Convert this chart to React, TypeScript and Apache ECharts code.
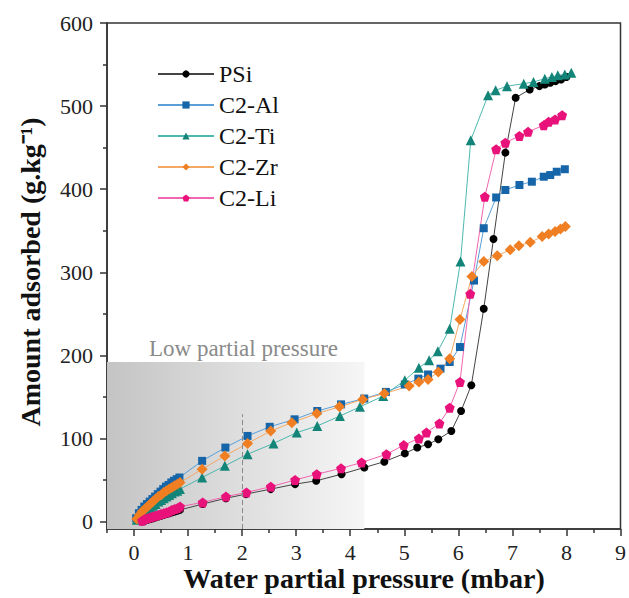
import React, { useEffect, useRef } from "react";
import * as echarts from "echarts";

// ---- Data ----
const psiX = [0.15,0.2,0.25,0.3,0.35,0.4,0.45,0.5,0.55,0.6,0.65,0.7,0.75,0.8,0.85,1.27,1.7,2.07,2.53,2.98,3.37,3.84,4.26,4.63,5.01,5.24,5.44,5.63,5.87,6.05,6.24,6.47,6.65,6.87,7.06,7.32,7.5,7.6,7.7,7.8,7.9,8.0];
const psiY = [0,1,2,3,4,5,6,7,8,9,10,11,12,13,14,21,28,33,39,45,49,57,65,72,82,89,93,99,109,133,164,256,340,444,510,520,524,526,528,530,532,535];

const alX = [0.04,0.09,0.14,0.19,0.24,0.29,0.34,0.39,0.44,0.49,0.54,0.59,0.64,0.69,0.74,0.79,0.84,1.26,1.69,2.10,2.51,2.97,3.39,3.83,4.26,4.66,5.01,5.26,5.44,5.67,5.84,6.03,6.29,6.47,6.70,6.87,7.13,7.36,7.58,7.70,7.82,7.97];
const alY = [4,10,14,18,21,24,27,30,33,36,39,42,44,47,49,51,53,73,89,103,114,123,133,141,148,156,165,172,177,184,192,210,290,353,390,399,405,409,415,417,421,424];

const tiX = [0.05,0.1,0.15,0.2,0.25,0.3,0.35,0.4,0.45,0.5,0.55,0.6,0.65,0.7,0.75,0.8,0.85,1.26,1.68,2.10,2.58,3.01,3.39,3.81,4.18,4.61,5.01,5.27,5.46,5.62,5.84,6.04,6.23,6.55,6.69,6.90,7.21,7.39,7.60,7.73,7.84,7.97,8.09];
const tiY = [2,6,9,12,15,17,19,21,24,26,28,30,32,34,36,37,39,53,67,81,94,107,115,127,138,151,170,185,194,205,232,313,459,513,519,524,527,529,533,535,537,538,540];

const zrX = [0.05,0.1,0.15,0.2,0.25,0.3,0.35,0.4,0.45,0.5,0.55,0.6,0.65,0.7,0.75,0.8,0.85,1.26,1.68,2.10,2.53,2.92,3.38,3.80,4.23,4.63,5.09,5.27,5.44,5.63,5.84,6.03,6.25,6.47,6.72,6.96,7.12,7.33,7.55,7.67,7.79,7.89,7.98];
const zrY = [3,8,12,15,18,21,24,27,30,32,35,37,39,41,43,45,47,63,79,94,109,119,130,138,147,154,163,168,171,180,196,243,295,313,320,327,332,336,343,346,349,352,355];

const liX = [0.15,0.2,0.25,0.3,0.35,0.4,0.45,0.5,0.55,0.6,0.65,0.7,0.75,0.8,0.85,1.27,1.70,2.08,2.53,2.98,3.38,3.83,4.21,4.67,4.99,5.27,5.41,5.65,5.84,6.03,6.22,6.49,6.70,6.87,7.13,7.29,7.58,7.67,7.79,7.92];
const liY = [1,3,4,5,6,7,8,9,10,11,12,14,15,16,18,23,30,35,42,50,57,64,71,81,92,100,107,118,137,168,274,391,448,456,464,469,477,481,484,489];

const xTickLabels = [0,1,2,3,4,5,6,7,8,9];
const xMinorTicks = [-0.5,0.5,1.5,2.5,3.5,4.5,5.5,6.5,7.5,8.5];
const yTickLabels = [0,100,200,300,400,500,600];
const yMinorTicks = [50,150,250,350,450,550];

// shaded "low partial pressure" region and the x = 2 guide
const lowRegionX = [-0.5, 4.26];
const lowRegionY = [-9, 192];
const guideX = 2;
const guideTop = 129;

const FONT = '"Liberation Serif", "Times New Roman", serif';
const PENTAGON = "path://M0,-10 L9.51,-3.09 L5.88,8.09 L-5.88,8.09 L-9.51,-3.09 Z";

const zip = (xs: number[], ys: number[]) => xs.map((x, i) => [x, ys[i]]);

export default function App() {
  const ref = useRef<HTMLDivElement>(null);
  useEffect(() => {
    if (!ref.current) return;
    const chart = echarts.init(ref.current, undefined, { renderer: "svg" });

    const mk = (name: string, xs: number[], ys: number[], symbol: string, size: number, mColor: string, lColor: string) => ({
      name,
      type: "line",
      data: zip(xs, ys),
      symbol,
      symbolSize: size,
      showSymbol: true,
      z: 3,
      itemStyle: { color: mColor },
      lineStyle: { color: lColor, width: 1 },
    });

    chart.setOption({
      animation: false,
      backgroundColor: "#ffffff",
      grid: {
        left: 107,
        top: 23,
        right: 7,
        bottom: 69,
        show: true,
        borderColor: "#333",
        borderWidth: 1.5,
        backgroundColor: "transparent",
      },
      legend: {
        orient: "vertical",
        left: 152,
        top: 57,
        itemGap: 7,
        itemWidth: 56,
        itemHeight: 9,
        textStyle: { fontFamily: FONT, fontSize: 24, color: "#111" },
        data: ["PSi", "C2-Al", "C2-Ti", "C2-Zr", "C2-Li"],
      },
      xAxis: [
        {
          type: "value",
          min: -0.5,
          max: 9,
          splitLine: { show: false },
          axisLine: { show: true, onZero: false, lineStyle: { color: "#333", width: 1.5 } },
          axisTick: { show: true, inside: false, length: 7, customValues: xTickLabels, lineStyle: { color: "#333", width: 1.5 } },
          axisLabel: { customValues: xTickLabels, margin: 12, fontFamily: FONT, fontSize: 22, color: "#222" },
        },
        {
          type: "value",
          position: "bottom",
          min: -0.5,
          max: 9,
          splitLine: { show: false },
          axisLine: { show: false, onZero: false },
          axisTick: { show: true, inside: false, length: 4, customValues: xMinorTicks, lineStyle: { color: "#333", width: 1.5 } },
          axisLabel: { show: false },
        },
      ],
      yAxis: [
        {
          type: "value",
          min: -9,
          max: 600,
          splitLine: { show: false },
          axisLine: { show: true, onZero: false, lineStyle: { color: "#333", width: 1.5 } },
          axisTick: { show: true, inside: false, length: 7, customValues: yTickLabels, lineStyle: { color: "#333", width: 1.5 } },
          axisLabel: { customValues: yTickLabels, margin: 14, fontFamily: FONT, fontSize: 22, color: "#222" },
        },
        {
          type: "value",
          position: "left",
          min: -9,
          max: 600,
          splitLine: { show: false },
          axisLine: { show: false, onZero: false },
          axisTick: { show: true, inside: false, length: 4, customValues: yMinorTicks, lineStyle: { color: "#333", width: 1.5 } },
          axisLabel: { show: false },
        },
      ],
      series: [
        {
          name: "region",
          type: "line",
          data: [],
          z: 1,
          silent: true,
          markArea: {
            silent: true,
            itemStyle: {
              color: new echarts.graphic.LinearGradient(0, 0, 1, 0, [
                { offset: 0, color: "#c4c4c4" },
                { offset: 1, color: "#f6f6f6" },
              ]),
            },
            data: [[{ coord: [lowRegionX[0], lowRegionY[0]] }, { coord: [lowRegionX[1], lowRegionY[1]] }]],
          },
          markLine: {
            silent: true,
            symbol: ["none", "none"],
            label: { show: false },
            lineStyle: { color: "#888", type: [5, 3], width: 1 },
            data: [[{ coord: [guideX, lowRegionY[0]] }, { coord: [guideX, guideTop] }]],
          },
        },
        mk("PSi", psiX, psiY, "circle", 8, "#000000", "#444444"),
        mk("C2-Al", alX, alY, "rect", 8, "#1565a8", "#5a9fd8"),
        mk("C2-Ti", tiX, tiY, "triangle", 10, "#138478", "#4cb8b0"),
        mk("C2-Zr", zrX, zrY, "diamond", 11, "#ef7f22", "#f5a863"),
        mk("C2-Li", liX, liY, PENTAGON, 10, "#e8127a", "#f265b0"),
      ],
      graphic: [
        {
          type: "text",
          x: 149,
          y: 348,
          style: { text: "Low partial pressure", font: `23px ${FONT}`, fill: "#8a8a8a", textAlign: "left", textVerticalAlign: "middle" },
        },
        {
          type: "text",
          x: 364,
          y: 578,
          style: { text: "Water partial pressure (mbar)", font: `bold 28px ${FONT}`, fill: "#111", textAlign: "center", textVerticalAlign: "middle" },
        },
        {
          type: "text",
          x: 30,
          y: 272,
          rotation: Math.PI / 2,
          style: { text: "Amount adsorbed (g.kg⁻¹)", font: `bold 28px ${FONT}`, fill: "#111", textAlign: "center", textVerticalAlign: "middle" },
        },
      ],
    });
    return () => chart.dispose();
  }, []);
  return <div ref={ref} style={{ position: "fixed", left: 0, top: 0, width: 629, height: 598 }} />;
}
